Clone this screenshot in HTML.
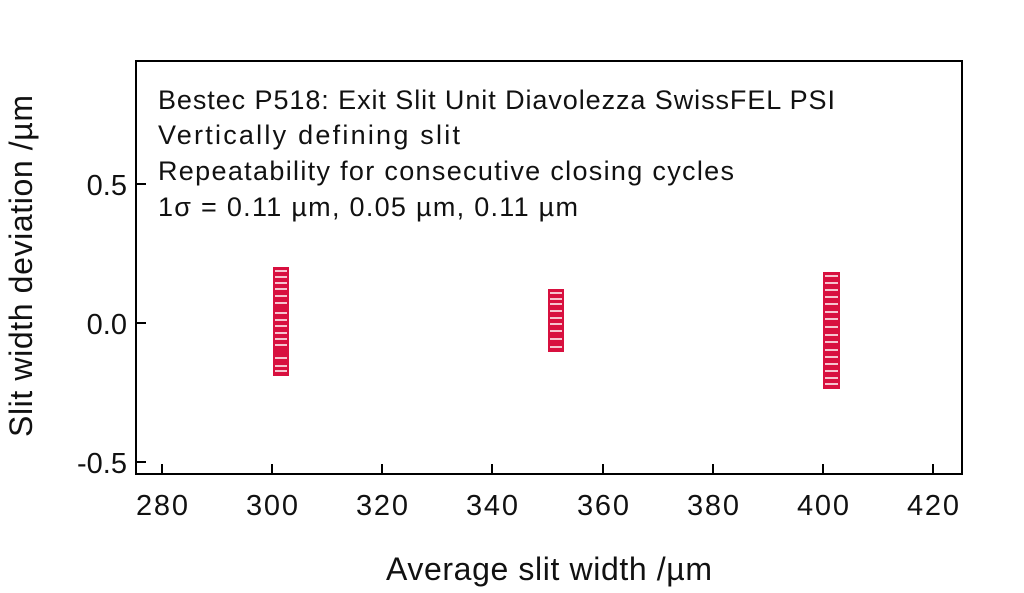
<!DOCTYPE html><html><head><style>body{margin:0;background:#fff}</style></head><body>
<svg width="1024" height="588" xmlns="http://www.w3.org/2000/svg" font-family="Liberation Sans, sans-serif">
<rect x="136" y="61" width="826" height="413" fill="none" stroke="#000" stroke-width="2"/>
<g stroke="#000" stroke-width="2">
<line x1="162" y1="474" x2="162" y2="464"/><line x1="272" y1="474" x2="272" y2="464"/><line x1="382" y1="474" x2="382" y2="464"/><line x1="492" y1="474" x2="492" y2="464"/><line x1="603" y1="474" x2="603" y2="464"/><line x1="713" y1="474" x2="713" y2="464"/><line x1="823" y1="474" x2="823" y2="464"/><line x1="933" y1="474" x2="933" y2="464"/>
<line x1="136" y1="184" x2="146" y2="184"/><line x1="136" y1="323" x2="146" y2="323"/><line x1="136" y1="462" x2="146" y2="462"/>
</g>
<g font-size="29" fill="#111" text-anchor="middle">
<text x="162" y="515" textLength="52">280</text><text x="272" y="515" textLength="52">300</text><text x="382" y="515" textLength="52">320</text><text x="492" y="515" textLength="52">340</text><text x="603" y="515" textLength="52">360</text><text x="713" y="515" textLength="52">380</text><text x="823" y="515" textLength="52">400</text><text x="933" y="515" textLength="52">420</text>
</g>
<g font-size="29" fill="#111" text-anchor="end">
<text x="127" y="195">0.5</text><text x="127" y="334">0.0</text><text x="127" y="473">-0.5</text>
</g>
<text x="549" y="580" font-size="32" text-anchor="middle" fill="#111" textLength="326">Average slit width /µm</text>
<text transform="translate(32,266) rotate(-90)" font-size="32" text-anchor="middle" fill="#111" textLength="342">Slit width deviation /µm</text>
<g font-size="27" fill="#111">
<text x="158" y="109" textLength="677">Bestec P518: Exit Slit Unit Diavolezza SwissFEL PSI</text>
<text x="158" y="144" textLength="302">Vertically defining slit</text>
<text x="158" y="180" textLength="576">Repeatability for consecutive closing cycles</text>
<text x="158" y="216" textLength="420">1σ = 0.11 µm, 0.05 µm, 0.11 µm</text>
</g>
<g fill="#d8103f">
<rect x="273" y="267" width="16" height="109"/>
<rect x="548" y="289" width="16" height="63"/>
<rect x="823" y="272" width="17" height="117"/>
</g>
<g stroke="#fff" stroke-width="1.5">
<path d="M275 271h12M275 277h12M275 283h12M275 289h12M275 296h12M275 303h12M275 313h12M275 320h12M275 326h12M275 333h12M275 339h12M275 345h12M275 358h12M275 366h12M275 371h12"/>
<path d="M550 293h12M550 299h12M550 304h12M550 311h12M550 318h12M550 324h12M550 331h12M550 339h12M550 347h12"/>
<path d="M825 276h13M825 283h13M825 290h13M825 297h13M825 304h13M825 312h13M825 319h13M825 327h13M825 335h13M825 342h13M825 350h13M825 357h13M825 364h13M825 371h13M825 378h13M825 384h13"/>
</g>
</svg>
</body></html>
